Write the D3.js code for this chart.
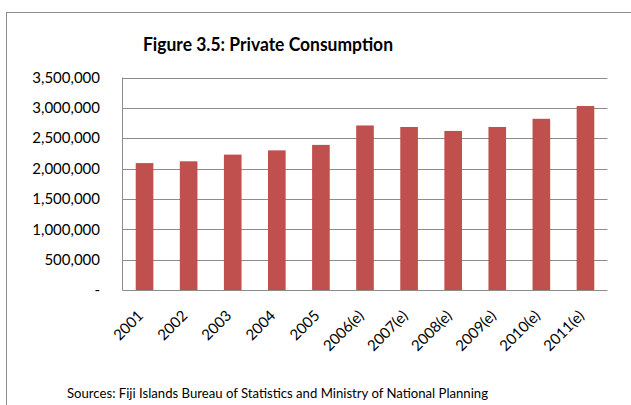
<!DOCTYPE html>
<html><head><meta charset="utf-8">
<script src="https://cdn.jsdelivr.net/npm/d3@7"></script>
<style>body{margin:0;background:#fff}</style>
</head><body>
<svg id="c" width="631" height="405"></svg>
<script>
const categories = ["2001","2002","2003","2004","2005","2006(e)","2007(e)","2008(e)","2009(e)","2010(e)","2011(e)"];
const values = [2090000,2120000,2230000,2300000,2390000,2710000,2685000,2620000,2685000,2820000,3030000];
const yTicks = [0,500000,1000000,1500000,2000000,2500000,3000000,3500000];
const title = "Figure 3.5: Private Consumption";
const source = "Sources: Fiji Islands Bureau of Statistics and Ministry of National Planning";

const svg = d3.select("#c");
const font = "Lato, 'Open Sans', sans-serif";
svg.append("rect").attr("x",6.5).attr("y",12.5).attr("width",640).attr("height",420)
  .attr("fill","none").attr("stroke","#8c8c8c").attr("stroke-width",1);

const L=122.5, R=607.5, T=77.5, B=290;
const x = d3.scaleBand().domain(categories).range([L,R]).paddingInner(0.6).paddingOuter(0.3);
const y = d3.scaleLinear().domain([0,3500000]).range([B,T]);

svg.append("text").attr("x",268).attr("y",51).attr("text-anchor","middle")
  .attr("font-family",font).attr("font-weight","bold").attr("font-size",19).attr("fill","#000")
  .attr("textLength",250).attr("lengthAdjust","spacingAndGlyphs").text(title);

svg.append("g").selectAll("line").data(yTicks).join("line")
  .attr("x1",L).attr("x2",R).attr("y1",d=>Math.round(y(d))+0.5).attr("y2",d=>Math.round(y(d))+0.5)
  .attr("stroke","#8c8c8c").attr("stroke-width",1);
svg.append("line").attr("x1",L).attr("x2",L).attr("y1",T).attr("y2",B+0.5).attr("stroke","#8c8c8c");

const fmt = d3.format(",");
svg.append("g").selectAll("text").data(yTicks).join("text")
  .attr("x",100).attr("y",d=>y(d)).attr("dy","0.35em").attr("text-anchor","end")
  .attr("font-family",font).attr("font-size",15).attr("fill","#000")
  .text(d=>d===0?"-":fmt(d));

svg.append("g").selectAll("rect").data(values).join("rect")
  .attr("x",(d,i)=>x(categories[i])).attr("width",x.bandwidth())
  .attr("y",d=>y(d)).attr("height",d=>B-y(d)).attr("fill","#C0504D");

svg.append("g").selectAll("text").data(categories).join("text")
  .attr("transform",d=>`translate(${x(d)+x.bandwidth()/2-4},${B+23}) rotate(-45)`)
  .attr("text-anchor","end").attr("dy","0.35em")
  .attr("font-family",font).attr("font-size",15).attr("fill","#000").text(d=>d);

svg.append("text").attr("x",67).attr("y",398).attr("font-family",font).attr("font-size",13)
  .attr("fill","#000").attr("textLength",421).attr("lengthAdjust","spacingAndGlyphs").text(source);
</script>
</body></html>
